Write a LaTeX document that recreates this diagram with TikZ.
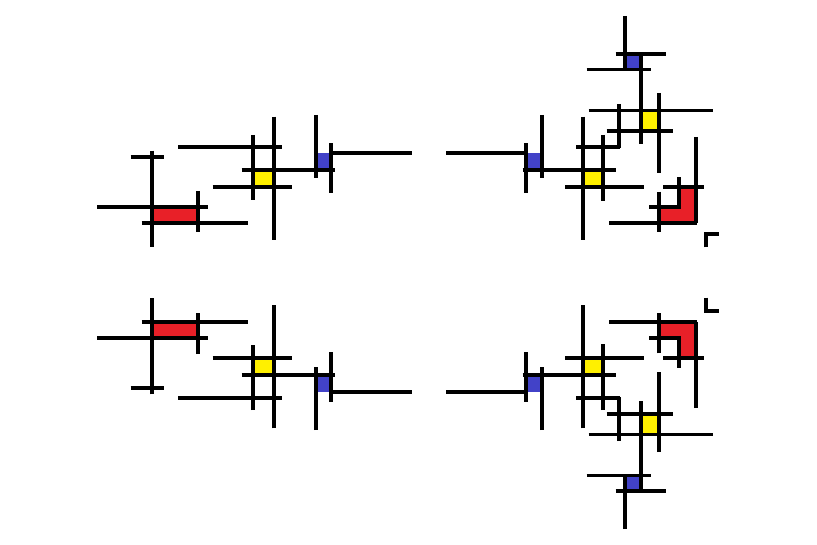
\documentclass[tikz,border=0pt]{standalone}
\definecolor{mred}{RGB}{232,32,40}
\definecolor{myellow}{RGB}{255,240,0}
\definecolor{mblue}{RGB}{66,66,200}
\tikzset{
  bar/.style={line width=2.9pt, black},
  redfill/.style={fill=mred},
  yelfill/.style={fill=myellow},
  bluefill/.style={fill=mblue}
}
\newcommand{\halfpic}{%
  % fills
  \fill[redfill] (151.7,206.7) rectangle (197.7,223.3);
  \fill[yelfill] (253.3,170) rectangle (274.3,187.3);
  \fill[bluefill] (315.7,153.3) rectangle (330.7,170);
  \fill[bluefill] (526,153.3) rectangle (541.7,170);
  \fill[yelfill] (582.7,170) rectangle (603.3,187.3);
  \fill[yelfill] (641.3,110.5) rectangle (659.3,131.2);
  \fill[bluefill] (625,54) rectangle (641.3,69.5);
  \fill[redfill] (659.3,206.7) -- (679.3,206.7) -- (679.3,187.3) -- (696,187.3) -- (696,223.3) -- (659.3,223.3) -- cycle;
  % left group
  \draw[bar] (151.7,150.7) -- (151.7,247);
  \draw[bar] (130.7,157.3) -- (164,157.3);
  \draw[bar] (97.3,206.7) -- (208.3,206.7);
  \draw[bar] (141.7,223.3) -- (248.3,223.3);
  \draw[bar] (197.7,191) -- (197.7,231.7);
  \draw[bar] (178.3,146.7) -- (281.7,146.7);
  \draw[bar] (253.3,135) -- (253.3,200);
  \draw[bar] (274.3,116.7) -- (274.3,240);
  \draw[bar] (241.7,170) -- (335,170);
  \draw[bar] (212.7,187.3) -- (292.3,187.3);
  \draw[bar] (315.7,115) -- (315.7,178.3);
  \draw[bar] (330.7,143.3) -- (330.7,193.3);
  \draw[bar] (330.7,153.3) -- (411.7,153.3);
  % right group
  \draw[bar] (446,153.3) -- (526,153.3);
  \draw[bar] (526,143.3) -- (526,193.3);
  \draw[bar] (541.7,115) -- (541.7,178.3);
  \draw[bar] (522.7,170) -- (615.7,170);
  \draw[bar] (582.7,116.7) -- (582.7,240);
  \draw[bar] (603.3,135) -- (603.3,200.7);
  \draw[bar] (565,187.3) -- (644.3,187.3);
  \draw[bar] (576,147) -- (620.2,147);
  \draw[bar] (619,104) -- (619,148.2);
  \draw[bar] (606.7,131.2) -- (672.5,131.2);
  \draw[bar] (588.5,110.5) -- (712.7,110.5);
  \draw[bar] (641.3,54) -- (641.3,144);
  \draw[bar] (659.3,93) -- (659.3,173.3);
  \draw[bar] (625,16) -- (625,70);
  \draw[bar] (615.5,54) -- (665.5,54);
  \draw[bar] (586.7,69.5) -- (650.7,69.5);
  % red L
  \draw[bar] (696,137) -- (696,223.3);
  \draw[bar] (609.3,223.3) -- (697.3,223.3);
  \draw[bar] (659.3,191.7) -- (659.3,231.7);
  \draw[bar] (649.3,206.7) -- (680.6,206.7);
  \draw[bar] (679.3,177.3) -- (679.3,206.7);
  \draw[bar] (663.3,187.3) -- (704,187.3);
  % corner mark
  \draw[bar] (705.7,247.3) -- (705.7,234) -- (719.3,234);
}
\begin{document}
\begin{tikzpicture}[x=0.75pt,y=-0.75pt]
  \useasboundingbox (0,0) rectangle (817,545);
  \halfpic
  \begin{scope}[shift={(0,545)},yscale=-1]
    \halfpic
  \end{scope}
\end{tikzpicture}
\end{document}
